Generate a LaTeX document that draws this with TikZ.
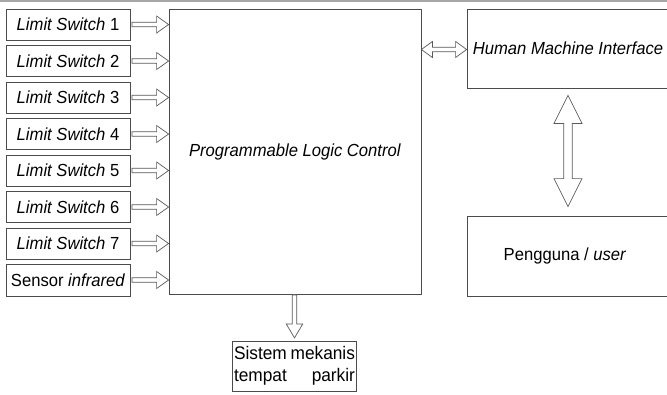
\documentclass[tikz,border=0pt]{standalone}
\usepackage{fontspec}
\setmainfont{Liberation Sans}[FakeStretch=0.95]
\usetikzlibrary{calc}

% hollow block arrow pointing right: shaft starts at #1, tip at #2
\newcommand\rightblock[2]{%
  \draw[hollow] let \p1=(#1), \p2=(#2) in
    (\x1,\y2+2.2pt) -- (\x2-12pt,\y2+2.2pt) -- (\x2-12pt,\y2+8.5pt) -- (\x2,\y2)
    -- (\x2-12pt,\y2-8.5pt) -- (\x2-12pt,\y2-2.2pt) -- (\x1,\y2-2.2pt) -- cycle;}
% hollow block arrow pointing down: shaft starts at #1, tip at #2
\newcommand\downblock[2]{%
  \draw[hollow] let \p1=(#1), \p2=(#2) in
    (\x2-2.3pt,\y1) -- (\x2-2.3pt,\y2+14pt) -- (\x2-8.3pt,\y2+14pt) -- (\x2,\y2)
    -- (\x2+8.3pt,\y2+14pt) -- (\x2+2.3pt,\y2+14pt) -- (\x2+2.3pt,\y1) -- cycle;}
% hollow double-headed horizontal arrow, tips at #1 (left) and #2 (right)
\newcommand\lrblock[2]{%
  \draw[hollow] let \p1=(#1), \p2=(#2) in
    (\x1,\y1) -- (\x1+11pt,\y1+8pt) -- (\x1+11pt,\y1+2.3pt) -- (\x2-11pt,\y1+2.3pt)
    -- (\x2-11pt,\y1+8pt) -- (\x2,\y1) -- (\x2-11pt,\y1-8pt) -- (\x2-11pt,\y1-2.3pt)
    -- (\x1+11pt,\y1-2.3pt) -- (\x1+11pt,\y1-8pt) -- cycle;}
% hollow double-headed vertical arrow, tips at #1 (top) and #2 (bottom)
\newcommand\udblock[2]{%
  \draw[hollow] let \p1=(#1), \p2=(#2) in
    (\x1,\y1) -- (\x1+14pt,\y1-28pt) -- (\x1+4.2pt,\y1-28pt) -- (\x1+4.2pt,\y2+28pt)
    -- (\x1+14pt,\y2+28pt) -- (\x1,\y2) -- (\x1-14pt,\y2+28pt) -- (\x1-4.2pt,\y2+28pt)
    -- (\x1-4.2pt,\y1-28pt) -- (\x1-14pt,\y1-28pt) -- cycle;}

\begin{document}
\begin{tikzpicture}[x=1pt,y=-1pt,
  txt/.style={font=\fontsize{17.5}{20}\selectfont},
  box/.style={draw=black!70, line width=0.8pt, inner sep=0pt, txt},
  inbox/.style={box, minimum width=124pt, minimum height=31pt},
  hollow/.style={draw=black!65, line width=0.7pt, fill=white, line join=miter}]

\useasboundingbox (0,0) rectangle (667,394);
\draw[gray!70, line width=1.2pt] (0,1) -- (667,1);

% input devices
\node[inbox] (ls1) at (68,24.5)  {\textit{Limit Switch} 1};
\node[inbox] (ls2) at (68,61)    {\textit{Limit Switch} 2};
\node[inbox] (ls3) at (68,97.5)  {\textit{Limit Switch} 3};
\node[inbox] (ls4) at (68,134)   {\textit{Limit Switch} 4};
\node[inbox] (ls5) at (68,170.5) {\textit{Limit Switch} 5};
\node[inbox] (ls6) at (68,207)   {\textit{Limit Switch} 6};
\node[inbox] (ls7) at (68,243.5) {\textit{Limit Switch} 7};
\node[inbox, minimum height=32pt] (ir) at (68,280) {Sensor \textit{infrared}};

% controller and peripherals
\node[box, minimum width=252pt, minimum height=285pt] (plc) at (295,151.5)
  {\textit{Programmable Logic Control}};
\node[box, minimum width=202pt, minimum height=79pt] (hmi) at (568,48.5)
  {\textit{Human Machine Interface}};
\node[box, minimum width=202pt, minimum height=80pt] (user) at (568,256)
  {\hspace{-6pt}Pengguna / \textit{user}};
\node[box, minimum width=124.4pt, minimum height=50pt, align=left,
      font=\fontsize{18.2}{22}\selectfont] (sys) at (294.5,366)
  {\makebox[121pt][s]{Sistem mekanis}\\\makebox[121pt][s]{tempat parkir}};

% signal flow
\foreach \k in {ls1,ls2,ls3,ls4,ls5,ls6,ls7,ir}
  {\rightblock{$(\k.east)+(1.5,0)$}{plc.west |- \k.east}}
\lrblock{$(plc.east |- hmi.west)+(0,1)$}{$(hmi.west)+(0,1)$}
\udblock{$(hmi.south)+(0,7)$}{$(user.north)+(0,-9)$}
\downblock{$(plc.south)+(0,0.5)$}{$(sys.north)+(0,-2.7)$}
\end{tikzpicture}
\end{document}
